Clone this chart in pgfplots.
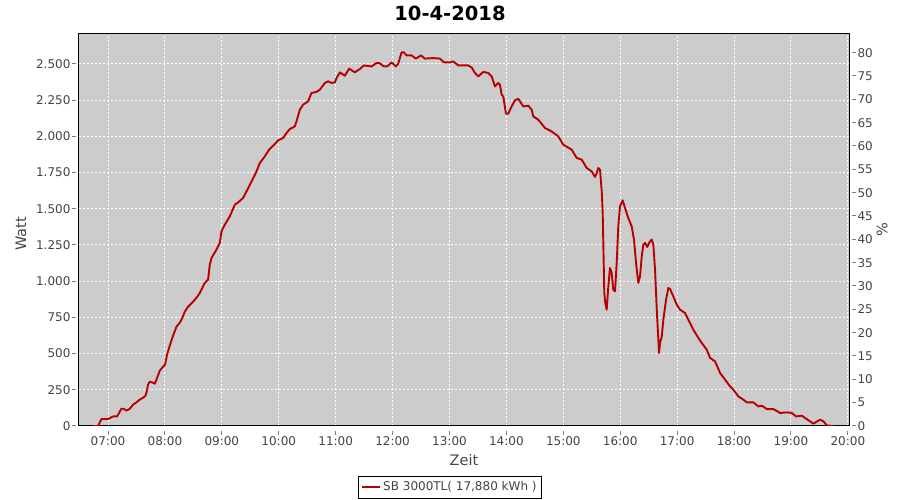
\documentclass[border=0pt]{standalone}
\usepackage{fontspec}
\setmainfont{DejaVu Sans}
\usepackage{pgfplots}
\pgfplotsset{compat=1.18}
\definecolor{plotbg}{RGB}{204,204,204}
\definecolor{curve}{RGB}{184,0,0}
\definecolor{axisgray}{RGB}{128,128,128}
\definecolor{labelgray}{RGB}{68,68,68}

% power of the inverter, hours (decimal) vs. watt
\pgfplotstableread{
h W
6.736 0
6.824 0
6.884 48
7.000 48
7.088 66
7.158 66
7.236 119
7.276 119
7.323 106
7.382 119
7.440 147
7.499 163
7.557 182
7.615 195
7.658 209
7.680 237
7.703 285
7.733 306
7.781 301
7.821 292
7.851 320
7.909 382
7.967 410
8.002 423
8.037 492
8.085 555
8.143 624
8.203 686
8.261 713
8.308 748
8.348 789
8.407 824
8.494 858
8.554 886
8.612 918
8.700 988
8.758 1010
8.788 1114
8.818 1160
8.906 1218
8.964 1264
8.994 1344
9.052 1390
9.140 1448
9.228 1528
9.286 1544
9.374 1575
9.433 1620
9.521 1689
9.609 1758
9.667 1816
9.755 1862
9.831 1908
9.901 1936
9.989 1972
10.077 1989
10.136 2023
10.195 2051
10.282 2069
10.312 2104
10.370 2184
10.428 2219
10.516 2242
10.576 2300
10.664 2307
10.722 2322
10.810 2369
10.868 2380
10.928 2369
10.986 2373
11.016 2403
11.074 2442
11.162 2419
11.237 2468
11.337 2442
11.425 2465
11.496 2490
11.631 2483
11.719 2507
11.765 2507
11.847 2483
11.905 2483
11.983 2511
12.058 2483
12.099 2502
12.158 2580
12.199 2580
12.246 2559
12.334 2559
12.410 2537
12.498 2559
12.568 2537
12.714 2541
12.832 2537
12.902 2511
13.008 2511
13.066 2518
13.153 2490
13.329 2490
13.389 2476
13.447 2438
13.505 2414
13.593 2445
13.681 2438
13.741 2414
13.799 2345
13.857 2369
13.887 2357
13.917 2288
13.945 2276
13.992 2157
14.033 2157
14.092 2207
14.150 2249
14.208 2260
14.296 2207
14.384 2212
14.444 2184
14.472 2138
14.560 2115
14.678 2058
14.795 2034
14.912 2000
14.999 1943
15.147 1908
15.235 1851
15.323 1839
15.411 1782
15.499 1758
15.557 1720
15.587 1747
15.615 1782
15.645 1770
15.675 1620
15.692 1471
15.703 1264
15.720 918
15.738 849
15.762 803
15.791 964
15.820 1091
15.850 1057
15.878 941
15.908 930
15.938 1126
15.966 1378
15.996 1517
16.043 1558
16.084 1506
16.142 1436
16.202 1378
16.242 1287
16.278 1126
16.318 988
16.348 1033
16.378 1171
16.406 1252
16.436 1264
16.476 1236
16.512 1268
16.554 1287
16.582 1252
16.612 1079
16.642 803
16.670 596
16.682 504
16.700 573
16.730 619
16.758 734
16.805 872
16.846 953
16.875 946
16.933 895
16.993 838
17.051 803
17.139 780
17.227 711
17.285 665
17.373 608
17.433 573
17.521 527
17.579 470
17.667 446
17.755 366
17.843 320
17.931 273
17.988 251
18.076 204
18.164 182
18.224 163
18.340 163
18.428 135
18.488 140
18.576 117
18.692 117
18.810 90
18.927 94
19.015 90
19.091 66
19.191 71
19.249 55
19.395 16
19.513 44
19.571 32
19.631 4
19.746 0
}\power

\begin{document}
\begin{tikzpicture}[x=1pt,y=1pt]
\useasboundingbox (0,0) rectangle (900,500);

\begin{axis}[
    at={(79pt,74pt)}, anchor=south west,
    width=770pt, height=392pt, scale only axis,
    xmin=6.49, xmax=20.02,
    ymin=0, ymax=2707,
    axis background/.style={fill=plotbg},
    axis line style={black, line width=1pt},
    xtick={7,...,20},
    xticklabels={07:00,08:00,09:00,10:00,11:00,12:00,13:00,14:00,15:00,16:00,17:00,18:00,19:00,20:00},
    ytick={0,250,...,2500},
    yticklabels={0,250,500,750,1.000,1.250,1.500,1.750,2.000,2.250,2.500},
    tick pos=left,
    grid=major,
    major grid style={white, line width=1pt, dash pattern=on 2pt off 2pt},
    tick align=outside, major tick length=4pt,
    xtick style={axisgray, line width=1pt, yshift=-5pt},
    ytick style={axisgray, line width=1pt, xshift=-3pt},
    ticklabel style={font=\fontsize{12}{14}\selectfont, text=labelgray},
    xticklabel style={yshift=-3pt},
    yticklabel style={xshift=-1pt},
    xlabel={Zeit},
    xlabel style={at={(axis description cs:0.5,-0.087)}, anchor=center,
        font=\fontsize{14.5}{16}\selectfont, text=labelgray},
    ylabel={Watt},
    ylabel style={at={(axis description cs:-0.0753,0.49)}, anchor=center,
        font=\fontsize{14.5}{16}\selectfont, text=labelgray},
    legend style={at={(axis description cs:0.4818,-0.156)}, anchor=center,
        draw=black, fill=white, font=\fontsize{12}{14}\selectfont,
        text=labelgray, inner xsep=3pt, inner ysep=3.5pt, row sep=0pt},
    legend cell align=left,
    legend image code/.code={\draw[#1] (0pt,0pt) -- (18pt,0pt);},
]
\addplot[curve, line width=1.9pt, line join=round] table[x=h, y=W] {\power};
\addlegendentry{SB 3000TL( 17,880 kWh )}
\draw[axisgray, line width=1pt] ([yshift=-5pt]rel axis cs:0,0) -- ([yshift=-5pt]rel axis cs:1,0);
\draw[axisgray, line width=1pt] ([xshift=-3pt]rel axis cs:0,0) -- ([xshift=-3pt]rel axis cs:0,1);
\end{axis}

\begin{axis}[
    at={(79pt,74pt)}, anchor=south west,
    width=770pt, height=392pt, scale only axis,
    xmin=6.49, xmax=20.02,
    ymin=0, ymax=84,
    axis x line=none,
    axis y line*=right,
    y axis line style={draw=none},
    ytick={0,5,...,80},
    tick align=outside, major tick length=4pt,
    ytick style={axisgray, line width=1pt, xshift=3pt},
    yticklabel style={font=\fontsize{12}{14}\selectfont, text=labelgray, xshift=1pt},
    /pgf/number format/assume math mode=true,
    ylabel={\%},
    ylabel style={at={(axis description cs:1.0429,0.5)}, anchor=center,
        font=\fontsize{14.5}{16}\selectfont, text=labelgray},
]
\draw[axisgray, line width=1pt] ([xshift=3pt]rel axis cs:1,0) -- ([xshift=3pt]rel axis cs:1,1);
\end{axis}

\node[font=\bfseries\fontsize{19.5}{22}\selectfont, anchor=center] at (450,487) {10-4-2018};
\end{tikzpicture}
\end{document}
